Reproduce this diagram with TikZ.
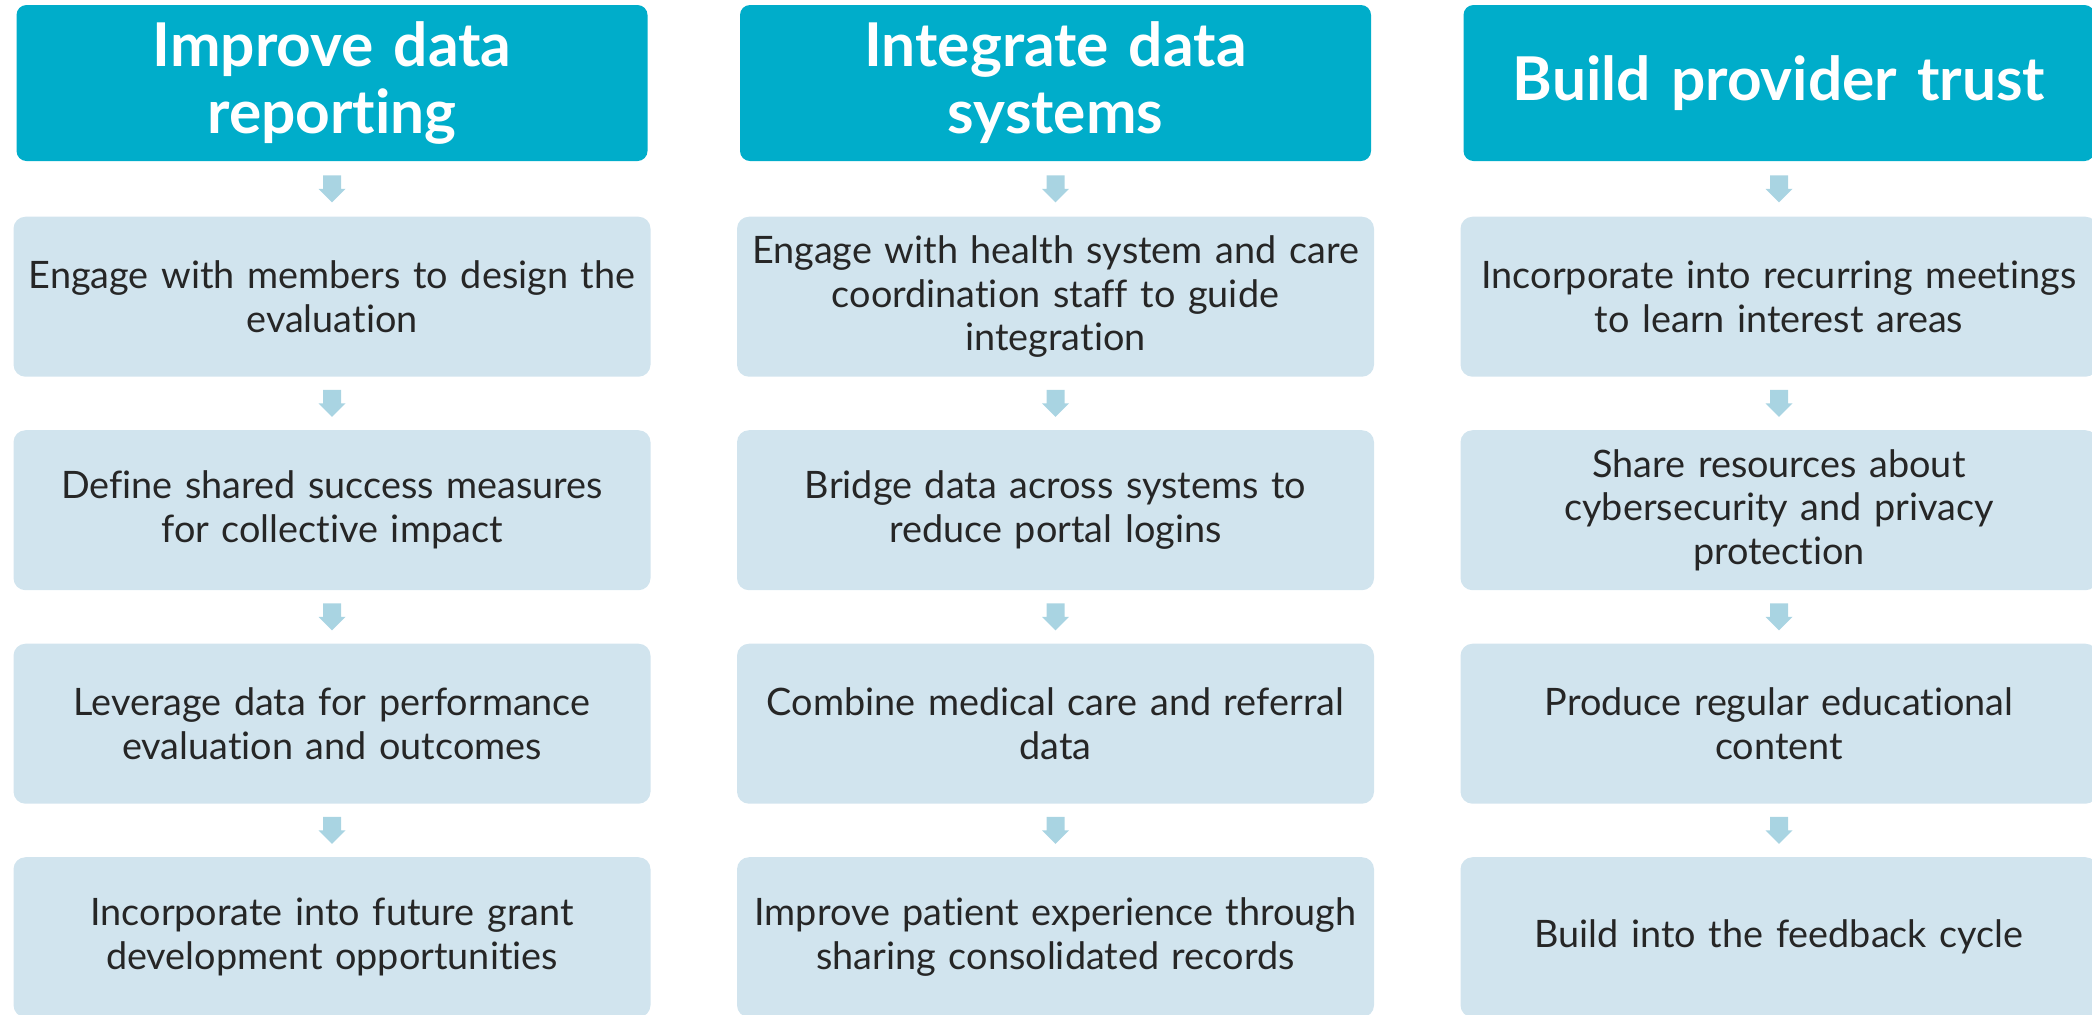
\documentclass[tikz,border=0pt]{standalone}
\usepackage{fontspec}
\setmainfont[Ligatures=NoCommon]{Lato}
\usetikzlibrary{calc}
\definecolor{headc}{HTML}{00ADCA}
\definecolor{boxc}{HTML}{D1E4EE}
\definecolor{arrc}{HTML}{A9D4E2}
\definecolor{txtc}{HTML}{262626}
\tikzset{
  headbox/.style={fill=headc, draw=none, rounded corners=5pt, minimum width=315.5pt, minimum height=78pt,
    text width=312pt, align=center, text=white, inner sep=0pt,
    font=\fontsize{30.2}{33.5}\selectfont\bfseries},
  stepbox/.style={fill=boxc, draw=none, rounded corners=6pt, minimum width=318.5pt, minimum height=80pt,
    text width=316pt, align=center, text=txtc, inner sep=0pt,
    font=\fontsize{18.9}{21.9}\selectfont},
  blockarr/.style={fill=arrc, draw=none}
}
\newcommand\blockarrow[2]{%
  \path ($(#1.south)!0.5!(#2.north)$) coordinate (m);
  \fill[blockarr] ([shift={(-4.5pt,6.75pt)}]m) -- ([shift={(4.5pt,6.75pt)}]m) -- ([shift={(4.5pt,0pt)}]m)
    -- ([shift={(6.75pt,0pt)}]m) -- ([shift={(0pt,-6.75pt)}]m) -- ([shift={(-6.75pt,0pt)}]m)
    -- ([shift={(-4.5pt,0pt)}]m) -- cycle;}
\begin{document}
\begin{tikzpicture}[x=0.5pt,y=-0.5pt]
\useasboundingbox (0,0) rectangle (2092,1014);
\clip (0,0) rectangle (2092,1014);
% column 1
\node[headbox] (h1) at (332,83) {Improve data\\reporting};
\node[stepbox] (a1) at (332,296.7) {Engage with members to design the\\evaluation};
\node[stepbox] (a2) at (332,510.2) {Define shared success measures\\for collective impact};
\node[stepbox] (a3) at (332,723.7) {Leverage data for performance\\evaluation and outcomes};
\node[stepbox] (a4) at (332,937.2) {Incorporate into future grant\\development opportunities};
% column 2
\node[headbox] (h2) at (1055.5,83) {Integrate data\\systems};
\node[stepbox] (b1) at (1055.5,296.7) {Engage with health system and care\\coordination staff to guide\\integration};
\node[stepbox] (b2) at (1055.5,510.2) {Bridge data across systems to\\reduce portal logins};
\node[stepbox] (b3) at (1055.5,723.7) {Combine medical care and referral\\data};
\node[stepbox] (b4) at (1055.5,937.2) {Improve patient experience through\\sharing consolidated records};
% column 3
\node[headbox] (h3) at (1779,83) {Build provider trust};
\node[stepbox] (c1) at (1779,296.7) {Incorporate into recurring meetings\\to learn interest areas};
\node[stepbox] (c2) at (1779,510.2) {Share resources about\\cybersecurity and privacy\\protection};
\node[stepbox] (c3) at (1779,723.7) {Produce regular educational\\content};
\node[stepbox] (c4) at (1779,937.2) {Build into the feedback cycle};
% arrows
\blockarrow{h1}{a1}\blockarrow{a1}{a2}\blockarrow{a2}{a3}\blockarrow{a3}{a4}
\blockarrow{h2}{b1}\blockarrow{b1}{b2}\blockarrow{b2}{b3}\blockarrow{b3}{b4}
\blockarrow{h3}{c1}\blockarrow{c1}{c2}\blockarrow{c2}{c3}\blockarrow{c3}{c4}
\end{tikzpicture}
\end{document}
